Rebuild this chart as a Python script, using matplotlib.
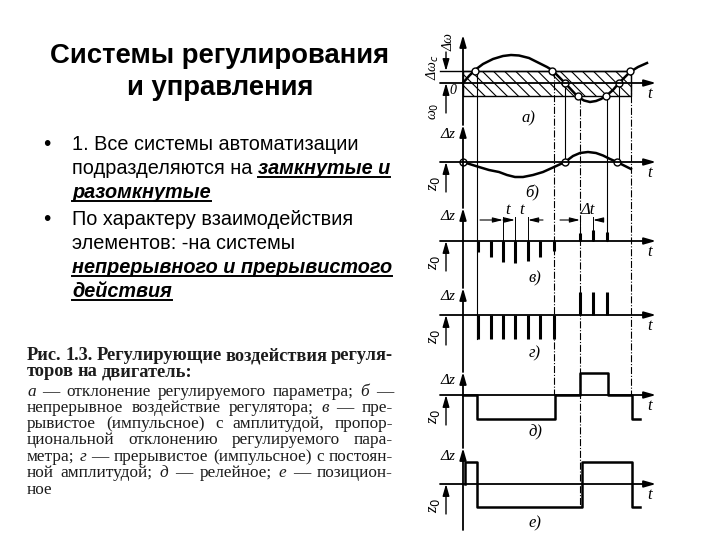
import matplotlib
matplotlib.use("Agg")
import matplotlib.pyplot as plt
from matplotlib.patches import Rectangle
import numpy as np

plt.rcParams['hatch.linewidth'] = 0.8

# ---- slide text ----
title_lines = ["Системы регулирования", "и управления"]
bullet1 = ["1. Все системы автоматизации", ("подразделяются на ", "замкнутые и"), ("", "разомкнутые")]
bullet2 = ["По характеру взаимодействия", "элементов: -на системы",
           ("", "непрерывного и прерывистого"), ("", "действия")]
caption_head = ["Рис. 1.3. Регулирующие воздействия регуля-", "торов на двигатель:"]
caption_body = [
    "а — отклонение регулируемого параметра; б —",
    "непрерывное воздействие регулятора; в — пре-",
    "рывистое (импульсное) с амплитудой, пропор-",
    "циональной отклонению регулируемого пара-",
    "метра; г — прерывистое (импульсное) с постоян-",
    "ной амплитудой; д — релейное; е — позицион-",
    "ное",
]

# ---- diagram data (time in arbitrary units, amplitude in arbitrary units) ----
# a) deviation of the controlled parameter
dev_t = [0, 0.6, 1.2, 2.0, 3.0, 4.0, 4.8, 5.6, 6.6, 7.6, 8.4, 8.9, 9.5, 10.2, 10.9,
         11.5, 12.1, 12.7, 13.3, 13.8, 14.3, 15.0, 15.6, 16.2, 16.7, 17.5, 18.4]
dev_y = [0, 0.7, 1.3, 1.9, 2.4, 2.7, 2.8, 2.75, 2.5, 2.0, 1.6, 1.3, 0.7, 0.0, -0.75,
         -1.4, -1.75, -1.9, -1.8, -1.6, -1.3, -0.7, 0.0, 0.6, 1.1, 1.6, 2.0]
band_hi, band_lo, band_end = 1.2, -1.3, 16.8
dev_marks_t = [1.2, 8.9, 10.2, 11.5, 14.3, 15.6, 16.7]
dev_marks_y = [1.2, 1.2, 0.0, -1.3, -1.3, 0.0, 1.2]

# b) continuous action
cont_t = [0, 0.8, 1.6, 2.6, 3.6, 4.4, 5.2, 6.0, 7.0, 8.0, 9.0, 10.2, 11.0, 11.7,
          12.5, 13.3, 14.0, 14.7, 15.4, 16.1, 16.8]
cont_y = [0, -0.25, -0.5, -0.8, -1.0, -1.3, -1.5, -1.5, -1.3, -1.0, -0.55, 0, 0.6,
          0.9, 1.0, 0.9, 0.65, 0.3, 0, -0.35, -0.7]
cont_marks_t = [0, 10.2, 15.4]

# c) pulses, amplitude proportional to deviation
pulse_t = [1.5, 2.8, 4.0, 5.2, 6.5, 7.7, 9.1, 11.7, 13.0, 14.4]
pulse_prop = [-1.1, -1.6, -2.1, -2.2, -2.0, -1.6, -1.0, 0.8, 1.1, 0.9]
# d) pulses, constant amplitude
pulse_const = [-2.4, -2.4, -2.4, -2.4, -2.4, -2.4, -2.4, 2.3, 2.3, 2.3]

# e) relay action
relay_t = [0, 1.4, 1.4, 9.2, 9.2, 11.7, 11.7, 14.5, 14.5, 16.9, 16.9, 17.7]
relay_y = [0, 0, -2.4, -2.4, 0, 0, 2.2, 2.2, 0, 0, -2.4, -2.4]

# f) positional action
pos_t = [0.2, 0.2, 1.4, 1.4, 11.9, 11.9, 16.9, 16.9, 17.7]
pos_y = [0, 2.2, 2.2, -2.3, -2.3, 2.2, 2.2, -2.3, -2.3]

# guide lines: time, top panel/offset, bottom panel/offset, style
guides = [(1.4, 'a', 1.3, 'd', -2.4, '-'),
          (9.1, 'a', 1.2, 'e', 0.0, '-.'),
          (10.2, 'a', 0.0, 'b', 0.0, '-'),
          (11.7, 'a', -1.4, 'f', -2.3, '-.'),
          (14.4, 'a', -1.3, 'c', 0.0, '-'),
          (15.6, 'a', 0.0, 'b', 0.0, '-'),
          (16.8, 'a', 1.1, 'e', 0.0, '-.')]

fig = plt.figure(figsize=(7.2, 5.4), dpi=100)

# text layer in pixel coordinates
tx = fig.add_axes([0, 0, 1, 1])
tx.set_xlim(0, 720)
tx.set_ylim(540, 0)
tx.axis('off')

sans = 'Liberation Sans'
serif = 'Liberation Serif'

for s, yb in zip(title_lines, [63, 95]):
    tx.text(220, yb, s, family=sans, weight='bold', fontsize=19.8, ha='center', va='baseline')

renderer = fig.canvas.get_renderer()


def width_of(t):
    bb = t.get_window_extent(renderer)
    return bb.width


def slide_line(item, x, yb, size=14.3):
    if isinstance(item, str):
        tx.text(x, yb, item, family=sans, fontsize=size, va='baseline')
        return
    plain, strong = item
    if plain:
        t = tx.text(x, yb, plain, family=sans, fontsize=size, va='baseline')
        x += width_of(t)
    t = tx.text(x, yb, strong, family=sans, fontsize=size, weight='bold',
                style='italic', va='baseline')
    w = width_of(t)
    tx.plot([x, x + w], [yb + 2.5, yb + 2.5], color='k', lw=1.4)


bl = [150, 174, 198]
tx.text(47, bl[0], "•", family=sans, fontsize=15, va='baseline', ha='center')
for item, yb in zip(bullet1, bl):
    slide_line(item, 72, yb)
bl = [225, 249, 273, 297]
tx.text(47, bl[0], "•", family=sans, fontsize=15, va='baseline', ha='center')
for item, yb in zip(bullet2, bl):
    slide_line(item, 72, yb)

italic_letters = {"а", "б", "в", "г", "д", "е"}


def make_words(words, yb, size, weight):
    out = []
    for w in words:
        st = 'italic' if w in italic_letters else 'normal'
        out.append(tx.text(0, yb, w, family=serif, fontsize=size, weight=weight,
                           style=st, va='baseline', color='#1c1c1c'))
    return out


def justify(line, x0, x1, yb, size, weight='normal', stretch=True, fit=True):
    words = line.split()
    texts = make_words(words, yb, size, weight)
    widths = [width_of(t) for t in texts]
    space = size * 0.3
    need = sum(widths) + space * (len(words) - 1)
    if fit and need > (x1 - x0):
        size = size * (x1 - x0) / need
        for t in texts:
            t.remove()
        texts = make_words(words, yb, size, weight)
        widths = [width_of(t) for t in texts]
        space = size * 0.3
    total = sum(widths)
    if stretch and len(words) > 1:
        gap = (x1 - x0 - total) / (len(words) - 1)
    else:
        gap = space
    x = x0
    for t, w in zip(texts, widths):
        t.set_x(x)
        x += w + gap
    return size


head_size = justify(caption_head[0], 27, 393, 360, 15, weight='bold')
justify(caption_head[1], 27, 393, 376, head_size, weight='bold', stretch=False, fit=False)
body_y = [396, 412, 428, 444, 461, 477, 494]
for i, (line, yb) in enumerate(zip(caption_body, body_y)):
    justify(line, 27, 393, yb, 12.4, stretch=(i < len(caption_body) - 1))

# ---- diagram ----
ax = fig.add_axes([420 / 720, 5 / 540, 250 / 720, 515 / 540])
ax.set_xlim(-4.3, 20.7)
ax.set_ylim(0, 51.5)
ax.axis('off')

base = {'a': 45.2, 'b': 37.3, 'c': 29.4, 'd': 22.0, 'e': 14.0, 'f': 5.1}
tops = {'a': 50.0, 'b': 41.0, 'c': 32.7, 'd': 24.7, 'e': 16.3, 'f': 8.7}
order = ['a', 'b', 'c', 'd', 'e', 'f']
lw = 1.3
arr = dict(arrowstyle='-|>,head_length=0.7,head_width=0.2', color='k', lw=lw,
           shrinkA=0, shrinkB=0)
lbl = dict(family=serif, style='italic', fontsize=12, ha='center', va='center')

# main vertical axis with arrowheads for each panel
for i, p in enumerate(order):
    lower = tops[order[i + 1]] if i + 1 < len(order) else 0.5
    ax.annotate('', xy=(0, tops[p]), xytext=(0, lower), arrowprops=arr)

# time axes
for p in order:
    ax.annotate('', xy=(19.3, base[p]), xytext=(-2.3, base[p]), arrowprops=arr)
    ax.text(18.7, base[p] - 1.1, 't', **lbl)

# z0 arrows
for p in order:
    ax.annotate('', xy=(-1.7, base[p]), xytext=(-1.7, base[p] - 3.0),
                arrowprops=dict(arr, lw=1.0))
for p in order[1:]:
    ax.text(-2.9, base[p] - 2.1, 'z$_0$', rotation=90, **lbl)
    ax.text(-1.5, tops[p] - 0.9, 'Δz', **dict(lbl, fontsize=11))

# a) labels
ax.annotate('', xy=(-1.7, base['a'] + band_hi), xytext=(-1.7, 48.3),
            arrowprops=dict(arr, lw=1.0))
ax.text(-3.0, 46.8, 'Δω$_c$', rotation=90, **dict(lbl, fontsize=10))
ax.text(-1.4, 49.3, 'Δω', rotation=90, **dict(lbl, fontsize=10))
ax.text(-2.9, 42.4, 'ω$_0$', rotation=90, **dict(lbl, fontsize=10))
ax.text(-1.0, base['a'] - 0.7, '0', **dict(lbl, fontsize=10))

# guide lines
for t, p0, o0, p1, o1, ls in guides:
    ax.plot([t, t], [base[p0] + o0, base[p1] + o1], color='k', lw=0.8, ls=ls)

# a) hatched dead band and curve
ax.add_patch(Rectangle((0, base['a'] + band_lo), band_end, band_hi - band_lo,
                       fill=False, hatch='\\\\\\', lw=1.0, edgecolor='k'))
ax.plot([-2.3, band_end], [base['a'] + band_hi] * 2, color='k', lw=1.0)
ax.plot(dev_t, np.array(dev_y) + base['a'], color='k', lw=1.8)
ax.plot(dev_marks_t, np.array(dev_marks_y) + base['a'], 'o', ms=5, mfc='white',
        mec='k', mew=1.0)
ax.text(6.5, base['a'] - 3.5, 'а)', **lbl)

# b) continuous
ax.plot(cont_t, np.array(cont_y) + base['b'], color='k', lw=1.8)
ax.plot(cont_marks_t, [base['b']] * len(cont_marks_t), 'o', ms=5, mfc='white',
        mec='k', mew=1.0)
ax.text(6.9, base['b'] - 3.1, 'б)', **lbl)

# c) proportional pulses
ax.vlines(pulse_t, base['c'], np.array(pulse_prop) + base['c'], color='k', lw=2.2)
ax.text(7.2, base['c'] - 3.7, 'в)', **lbl)
dim_y = 31.5
for t in [4.0, 5.2, 6.5, 11.7, 13.0]:
    ax.plot([t, t], [base['c'], dim_y + 0.3], color='k', lw=0.7)
dim = dict(arrowstyle='-|>,head_length=0.6,head_width=0.15', color='k', lw=0.8,
           shrinkA=0, shrinkB=0)
ax.annotate('', xy=(4.0, dim_y), xytext=(1.7, dim_y), arrowprops=dim)
ax.annotate('', xy=(5.2, dim_y), xytext=(4.0, dim_y), arrowprops=dim)
ax.annotate('', xy=(6.5, dim_y), xytext=(8.0, dim_y), arrowprops=dim)
ax.annotate('', xy=(11.7, dim_y), xytext=(9.7, dim_y), arrowprops=dim)
ax.annotate('', xy=(13.0, dim_y), xytext=(13.5, dim_y), arrowprops=dim)
ax.text(4.5, dim_y + 1.0, 't', **lbl)
ax.text(5.9, dim_y + 1.0, 't', **lbl)
ax.text(12.5, dim_y + 1.0, 'Δt', **lbl)

# d) constant pulses
ax.vlines(pulse_t, base['d'], np.array(pulse_const) + base['d'], color='k', lw=2.2)
ax.text(7.2, base['d'] - 3.8, 'г)', **lbl)

# e) relay
ax.plot(relay_t, np.array(relay_y) + base['e'], color='k', lw=1.8)
ax.text(7.2, base['e'] - 3.7, 'д)', **lbl)

# f) positional
ax.plot(pos_t, np.array(pos_y) + base['f'], color='k', lw=1.8)
ax.text(7.2, base['f'] - 3.9, 'е)', **lbl)

fig.savefig('out.png', dpi=100)
